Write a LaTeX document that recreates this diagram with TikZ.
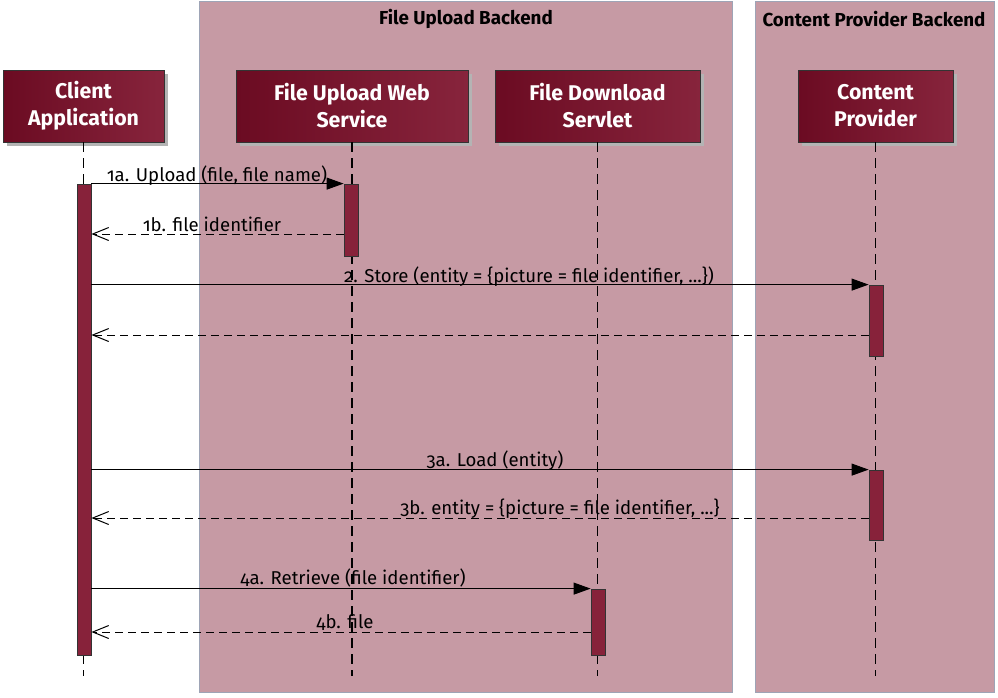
\documentclass[tikz,border=0pt]{standalone}
\usepackage{fontspec}
\setmainfont{Fira Sans}[Numbers=OldStyle]
\usetikzlibrary{arrows.meta,shadows}

\definecolor{groupfill}{HTML}{C69AA4}
\definecolor{groupline}{HTML}{9EA4B6}
\definecolor{boxdark}{HTML}{6B0B22}
\definecolor{boxlight}{HTML}{87243C}
\definecolor{actfill}{HTML}{87223A}
\definecolor{shadowgray}{HTML}{B4B4B4}

\tikzset{
  group/.style={draw=groupline, fill=groupfill, line width=1pt},
  grouptitle/.style={font=\fontsize{18.8}{22}\selectfont\bfseries, text=black},
  participant/.style={draw=black!80, left color=boxdark, right color=boxlight,
    text=white, align=center, inner sep=0pt, minimum height=72,
    font=\fontsize{21.3}{27}\selectfont\bfseries,
    drop shadow={shadow xshift=4pt, shadow yshift=-4pt, fill=shadowgray, opacity=1}},
  lifeline/.style={line width=1.1pt, dash pattern=on 10pt off 6pt},
  act/.style={draw=black!80, fill=actfill, minimum width=14, inner sep=0pt, line width=0.8pt},
  call/.style={line width=1pt, -{Triangle[length=17pt,width=12pt]}},
  reply/.style={line width=1pt, dash pattern=on 8pt off 5pt, -{Straight Barb[length=16pt,width=13pt]}},
  msg/.style={font=\fontsize{18.6}{22}\selectfont, anchor=base, inner sep=0pt}
}

\begin{document}
\begin{tikzpicture}[x=1pt, y=-1pt]
  \useasboundingbox (0,0) rectangle (998,697);

  % backends
  \draw[group] (199,1) rectangle (732,692);
  \draw[group] (755,1) rectangle (994,692);
  \node[grouptitle] (gfu) at (466,19) {File Upload Backend};
  \node[grouptitle] (gcp) at (874,19) {Content Provider Backend};

  % participants
  \node[participant, minimum width=161] (cl) at (83.5,106) {Client\\Application};
  \node[participant, minimum width=232] (fu) at (352,106) {File Upload Web\\Service};
  \node[participant, minimum width=205] (fd) at (597.5,106) {File Download\\Servlet};
  \node[participant, minimum width=155] (cp) at (875.5,106) {Content\\Provider};

  % lifelines
  \draw[lifeline] (cl.south) -- (cl.south |- 0,676);
  \draw[lifeline] (fu.south) -- (fu.south |- 0,676);
  \draw[lifeline] (fd.south) -- (fd.south |- 0,676);
  \draw[lifeline] (cp.south) -- (cp.south |- 0,676);

  % activations
  \node[act, minimum height=471] (acl) at (84,419.5) {};
  \node[act, minimum height=72] (afu) at (351,220) {};
  \node[act, minimum height=71] (acp1) at (876,320.5) {};
  \node[act, minimum height=70] (acp2) at (876,505) {};
  \node[act, minimum height=66] (afd) at (598,622) {};

  % messages
  \draw[call] (acl.east |- afu.north) -- (afu.north west);
  \node[msg] (m1a) at (217,181) {1a. Upload (file, file name)};
  \draw[reply] (afu.west |- 0,234) -- (acl.east |- 0,234);
  \node[msg] (m1b) at (212,231) {1b. file identifier};

  \draw[call] (acl.east |- acp1.north) -- (acp1.north west);
  \node[msg] (m2) at (529,282) {2. Store (entity = \{picture = file identifier, ...\})};
  \draw[reply] (acp1.west |- 0,335) -- (acl.east |- 0,335);

  \draw[call] (acl.east |- acp2.north) -- (acp2.north west);
  \node[msg] (m3a) at (495,466) {3a. Load (entity)};
  \draw[reply] (acp2.west |- 0,518) -- (acl.east |- 0,518);
  \node[msg] (m3b) at (560,514) {3b. entity = \{picture = file identifier, ...\}};

  \draw[call] (acl.east |- afd.north) -- (afd.north west);
  \node[msg] (m4a) at (353,584) {4a. Retrieve (file identifier)};
  \draw[reply] (afd.west |- 0,632) -- (acl.east |- 0,632);
  \node[msg] (m4b) at (345,628) {4b. file};
\end{tikzpicture}
\end{document}
